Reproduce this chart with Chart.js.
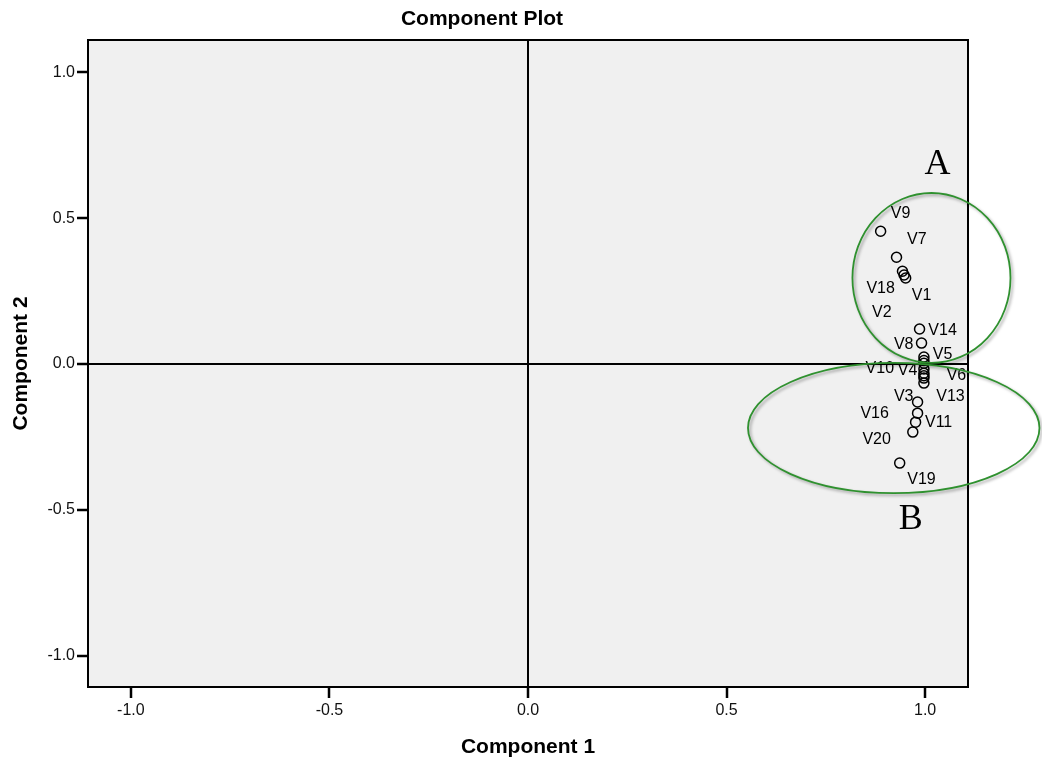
<!DOCTYPE html>
<html>
<head>
<meta charset="utf-8">
<script src="https://cdn.jsdelivr.net/npm/chart.js@4.4.0/dist/chart.umd.min.js"></script>
<style>
  html, body { margin: 0; padding: 0; background: #ffffff; }
  #wrap { width: 1042px; height: 760px; }
</style>
</head>
<body>
<div id="wrap"><canvas id="c" width="1042" height="760"></canvas></div>
<script>
// ---- data ----
const varNames = ['V1','V2','V3','V4','V5','V6','V7','V8','V9','V10',
                  'V11','V12','V13','V14','V15','V16','V17','V18','V19','V20'];
const component1 = [0.951, 0.947, 0.981, 0.997, 0.997, 0.997, 0.928, 0.991, 0.888, 0.997,
                    0.976, 0.997, 0.997, 0.986, 0.997, 0.981, 0.997, 0.943, 0.936, 0.969];
const component2 = [0.295, 0.305, -0.130, -0.017, 0.024, -0.031, 0.366, 0.072, 0.455, 0.003,
                    -0.199, -0.065, -0.048, 0.120, -0.040, -0.168, 0.012, 0.318, -0.339, -0.233];
// label anchor positions, in data units (null = label hidden by overlap)
const labelX = [0.991, 0.891, 0.946, 0.956, 1.044, 1.079, 0.979, 0.946, 0.938, 0.886,
                1.034, null, 1.064, 1.044, null, 0.873, null, 0.888, 0.991, 0.878];
const labelY = [0.236, 0.175, -0.110, -0.024, 0.031, -0.041, 0.425, 0.068, 0.517, -0.014,
                -0.202, null, -0.110, 0.116, null, -0.171, null, 0.260, -0.397, -0.257];
const tickValues = [-1.0, -0.5, 0.0, 0.5, 1.0];
const xAxisMin = -1.108, xAxisMax = 1.108;
const yAxisMin = -1.106, yAxisMax = 1.110;

// group annotations (data units)
const groupNames = ['A', 'B'];
const groupCX = [1.016, 0.921];
const groupCY = [0.295, -0.219];
const groupRX = [0.199, 0.367];
const groupRY = [0.291, 0.223];
const groupLabelX = [1.031, 0.964];
const groupLabelY = [0.682, -0.534];

const points = component1.map((x, i) => ({ x: x, y: component2[i] }));

const framePlugin = {
  id: 'frame',
  beforeDraw(chart) {
    const { ctx, chartArea: a } = chart;
    ctx.save();
    ctx.fillStyle = '#f0f0f0';
    ctx.fillRect(a.left, a.top, a.right - a.left, a.bottom - a.top);
    ctx.restore();
  },
  afterDraw(chart) {
    const { ctx, chartArea: a, scales } = chart;
    const xs = scales.x, ys = scales.y;
    ctx.save();
    ctx.strokeStyle = '#000';
    ctx.lineWidth = 2;
    ctx.strokeRect(a.left, a.top, a.right - a.left, a.bottom - a.top);
    ctx.fillStyle = '#000';
    ctx.font = '16px "Liberation Sans", Arial, sans-serif';
    ctx.textAlign = 'center';
    ctx.textBaseline = 'middle';
    varNames.forEach((n, i) => {
      if (labelX[i] === null) return;
      ctx.fillText(n, xs.getPixelForValue(labelX[i]), ys.getPixelForValue(labelY[i]));
    });
    ctx.fillStyle = '#000';
    ctx.font = 'bold 21px "Liberation Sans", Arial, sans-serif';
    ctx.fillText('Component Plot', 482, 19);
    ctx.fillText('Component 1', (a.left + a.right) / 2, 747);
    ctx.save();
    ctx.translate(21, (a.top + a.bottom) / 2);
    ctx.rotate(-Math.PI / 2);
    ctx.fillText('Component 2', 0, 0);
    ctx.restore();
    groupNames.forEach((g, i) => {
      const cx = xs.getPixelForValue(groupCX[i]);
      const cy = ys.getPixelForValue(groupCY[i]);
      const rx = Math.abs(xs.getPixelForValue(groupCX[i] + groupRX[i]) - cx);
      const ry = Math.abs(ys.getPixelForValue(groupCY[i] + groupRY[i]) - cy);
      ctx.save();
      ctx.shadowColor = 'rgba(0,0,0,0.35)';
      ctx.shadowBlur = 3;
      ctx.shadowOffsetX = 2;
      ctx.shadowOffsetY = 2;
      ctx.strokeStyle = '#2f912f';
      ctx.lineWidth = 1.8;
      ctx.beginPath();
      ctx.ellipse(cx, cy, rx, ry, 0, 0, Math.PI * 2);
      ctx.stroke();
      ctx.restore();
      ctx.fillStyle = '#000';
      ctx.font = '36px "Liberation Serif", "Times New Roman", serif';
      ctx.fillText(g, xs.getPixelForValue(groupLabelX[i]), ys.getPixelForValue(groupLabelY[i]));
    });
    ctx.restore();
  }
};

const zeroLine = (c) => (c.tick && c.tick.value === 0) ? '#000' : 'rgba(0,0,0,0)';

new Chart(document.getElementById('c'), {
  type: 'scatter',
  data: {
    datasets: [{
      label: 'Loadings',
      data: points,
      pointStyle: 'circle',
      pointRadius: 5,
      pointHoverRadius: 5,
      pointBorderWidth: 1.5,
      borderColor: '#000',
      backgroundColor: 'rgba(0,0,0,0)'
    }]
  },
  options: {
    responsive: false,
    animation: false,
    events: [],
    layout: { padding: { top: 40, right: 74, left: 0, bottom: 0 } },
    plugins: { legend: { display: false }, tooltip: { enabled: false }, title: { display: false } },
    scales: {
      x: {
        type: 'linear',
        min: xAxisMin, max: xAxisMax,
        afterBuildTicks: (s) => { s.ticks = tickValues.map(v => ({ value: v })); },
        afterFit: (s) => { s.height = 73; },
        border: { display: false },
        grid: { color: zeroLine, lineWidth: 2, tickColor: '#000', tickWidth: 2.5, tickLength: 11, drawOnChartArea: true },
        ticks: {
          color: '#111', padding: 3, maxRotation: 0, autoSkip: false,
          font: { family: '"Liberation Sans", Arial, sans-serif', size: 16 },
          callback: (v) => Number(v).toFixed(1)
        }
      },
      y: {
        type: 'linear',
        min: yAxisMin, max: yAxisMax,
        afterBuildTicks: (s) => { s.ticks = tickValues.map(v => ({ value: v })); },
        afterFit: (s) => { s.width = 88; },
        border: { display: false },
        grid: { color: zeroLine, lineWidth: 2, tickColor: '#000', tickWidth: 2.5, tickLength: 11, drawOnChartArea: true },
        ticks: {
          color: '#111', padding: 2, autoSkip: false,
          font: { family: '"Liberation Sans", Arial, sans-serif', size: 16 },
          callback: (v) => Number(v).toFixed(1)
        }
      }
    }
  },
  plugins: [framePlugin]
});
</script>
</body>
</html>
